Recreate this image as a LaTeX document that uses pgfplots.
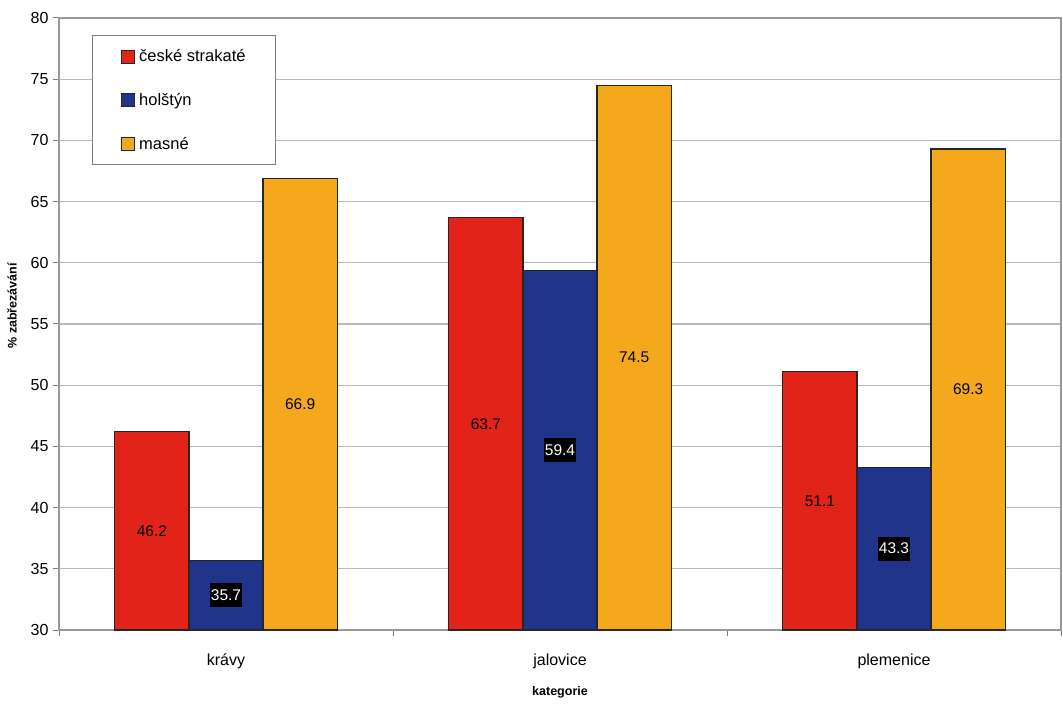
\documentclass[border=0pt]{standalone}
\usepackage{pgfplots}
\pgfplotsset{compat=1.18}
\usepackage{fontspec}
\setmainfont{Liberation Sans}
\definecolor{cred}{RGB}{226,35,26}
\definecolor{cblue}{RGB}{31,52,138}
\definecolor{corange}{RGB}{245,168,28}
\begin{document}
\begin{tikzpicture}
\begin{axis}[
  at={(59pt,75pt)}, anchor=south west,
  scale only axis, width=1002pt, height=612pt,
  xmin=-0.5, xmax=2.5, ymin=30, ymax=80,
  ytick={30,35,...,80},
  xtick={-0.5,0.5,1.5,2.5}, xticklabels={},
  extra x ticks={0,1,2},
  extra x tick labels={krávy,jalovice,plemenice},
  extra x tick style={major tick length=0pt, grid=none},
  xtick pos=bottom, ytick pos=left,
  tick align=outside, major tick length=6pt,
  tick style={draw=gray, line width=1pt},
  ymajorgrids, grid style={gray!55, line width=1.2pt},
  axis line style={gray!80, line width=1.2pt},
  ticklabel style={font=\fontsize{16}{18}\selectfont},
  /pgf/number format/assume math mode=true,
  xticklabel style={yshift=-20pt},
  yticklabel style={xshift=-1pt},
  xlabel={\textbf{kategorie}},
  ylabel={\textbf{\% zabřezávání}},
  label style={font=\fontsize{12.5}{14}\selectfont},
  xlabel style={at={(axis description cs:0.5,-0.101)}, anchor=center},
  ylabel style={at={(axis description cs:-0.0469,0.53)}, anchor=center},
  legend style={at={(0.033,0.972)}, anchor=north west, draw=gray, line width=1pt,
    font=\fontsize{16.5}{18}\selectfont, row sep=26pt, inner xsep=28pt, inner ysep=12pt,
    /tikz/every odd column/.append style={column sep=3pt}},
  legend cell align=left,
  legend image code/.code={\draw[#1, line width=0.6pt] (0pt,-6.5pt) rectangle (13pt,6.5pt);},
  visualization depends on={y \as \rawy},
  nodes near coords,
  nodes near coords style={anchor=center, yshift={-(\rawy-30)*6.12pt},
    font=\fontsize{15.5}{17}\selectfont,
    /pgf/number format/fixed, /pgf/number format/fixed zerofill,
    /pgf/number format/precision=1, /pgf/number format/assume math mode=true},
]
\addplot[ybar, bar width=0.222, bar shift=-0.222, fill=cred, draw=black!85, line width=1.2pt,
  nodes near coords style={xshift=-74.15pt}]
  coordinates {(0,46.2) (1,63.7) (2,51.1)};
\addlegendentry{české strakaté}
\addplot[ybar, bar width=0.222, bar shift=0, fill=cblue, draw=black!85, line width=1.2pt,
  nodes near coords style={fill=black, text=white, inner xsep=0.8pt, inner ysep=6.5pt}]
  coordinates {(0,35.7) (1,59.4) (2,43.3)};
\addlegendentry{holštýn}
\addplot[ybar, bar width=0.222, bar shift=0.222, fill=corange, draw=black!85, line width=1.2pt,
  nodes near coords style={xshift=74.15pt}]
  coordinates {(0,66.9) (1,74.5) (2,69.3)};
\addlegendentry{masné}
\end{axis}
\pgfresetboundingbox
\path (0,0) rectangle (1063pt,705pt);
\end{tikzpicture}
\end{document}
